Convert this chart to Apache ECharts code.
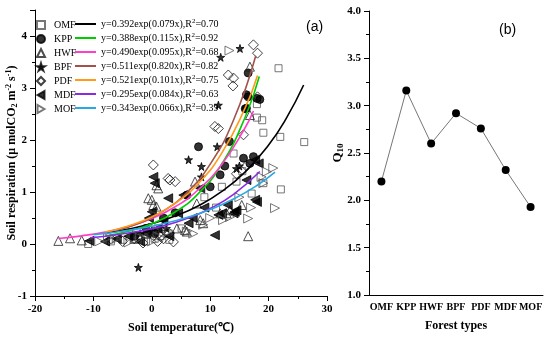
<!DOCTYPE html>
<html><head><meta charset="utf-8">
<script src="https://cdn.jsdelivr.net/npm/echarts@6/dist/echarts.min.js"></script>
<style>html,body{margin:0;padding:0;background:#fff}#c{width:550px;height:340px}</style>
</head><body><div id="c"></div>
<script>
// ---------- data ----------
const forestTypes = ['OMF','KPP','HWF','BPF','PDF','MDF','MOF'];
const q10Values = [2.20, 3.16, 2.60, 2.92, 2.76, 2.32, 1.93];
const equations = [
  'y=0.392exp(0.079x),R2=0.70',
  'y=0.388exp(0.115x),R2=0.92',
  'y=0.490exp(0.095x),R2=0.68',
  'y=0.511exp(0.820x),R2=0.82',
  'y=0.521exp(0.101x),R2=0.75',
  'y=0.295exp(0.084x),R2=0.63',
  'y=0.343exp(0.066x),R2=0.39'
];
// observed soil respiration [temperature, respiration]
const obsOMF = [[21.7,3.38],[18.9,2.38],[19.1,2.14],[22.0,2.06],[26.1,1.96],[18.0,2.43],[14.0,1.74],[18.0,2.69],[22.1,1.05],[17.1,0.97],[19.1,1.17],[5.1,0.30],[-10.9,0.0],[-7,0.05],[-5,0.08],[-3,0.1],[-1,0.05],[0.5,0.1],[1.5,0.15],[2.5,0.2],[3,0.08],[-2,0.15],[1,0.3],[9,0.9],[12,1.1],[15.5,1.4],[11,0.7],[14.5,1.2]];
const obsKPP = [[16.5,3.29],[16.5,2.83],[18.5,2.78],[16.2,2.61],[13.3,1.97],[8.0,1.87],[15.7,1.65],[16.8,1.55],[11.7,1.33],[16.2,2.87],[18,2.8],[16,2.6],[17.4,1.68],[2,0.5],[4,0.6],[-1,0.3],[0.5,0.2],[6,0.94],[10,1.1],[12.5,1.5],[-3,0.15]];
const obsHWF = [[-16.0,0.06],[-14,0.11],[-12,0.07],[0.8,1.13],[0,0.85],[0.26,0.75],[-0.6,0.88],[0.8,0.72],[1.1,1.07],[4.3,0.3],[6,0.24],[7.7,0.78],[8.3,0.46],[8.8,0.4],[5.7,0.27],[11.7,0.59],[12.8,0.59],[13.4,0.65],[16.5,0.15],[16.8,3.41],[16.8,2.48],[7.4,1.2],[15.4,0.75],[-3,0.1],[-1,0.2],[2,0.35]];
const obsBPF = [[15.1,3.76],[11.8,3.59],[11.4,2.67],[11.2,1.87],[6.3,1.62],[8.5,1.49],[8.5,1.29],[-2.3,-0.45],[2.5,0.3],[-2,0.2],[15,1.5],[0,0.25],[14.5,1.45]];
const obsPDF = [[17.4,3.83],[18.1,3.67],[13.1,3.25],[14.0,3.19],[13.9,3.04],[18.1,2.83],[10.8,2.26],[11.4,2.22],[15.7,2.10],[0.26,1.52],[2.8,1.26],[3.1,1.23],[4.0,1.2],[14.5,1.35],[16.2,1.5],[-5,0.05],[-3,0.1],[-1.5,0.02],[1,0.05],[2,0.1],[3,0.2],[-7,0.1],[-0.5,0.3],[1.5,0.14],[3.7,0.04]];
const obsMDF = [[0.26,1.29],[0.5,1.17],[2.8,0.88],[0,0.62],[5.4,0.94],[8.3,1.07],[4.5,0.59],[6.3,0.4],[10.8,0.17],[14.5,0.65],[14,0.59],[17.7,0.85],[16.2,1.23],[18,0.81],[11.4,0.56],[12,0.59],[14.2,0.62],[17.7,1.62],[18.3,1.55],[-10.7,0.06],[-8,0.05],[-6,0.1],[-4,0.15],[-2,0.05],[-1,0.2],[1,0.3],[2,0.45],[-0.5,0.5],[9,0.7],[7,0.5],[3,0.15],[13,0.75]];
const obsMOF = [[13.3,3.72],[21.1,0.69],[16.5,0.49],[18.8,1.29],[19.7,1.39],[20.8,1.46],[19.1,1.17],[12.2,0.46],[13.4,0.52],[6,0.24],[7.1,0.2],[8.8,0.37],[-9,0.05],[-6,0.1],[-4,0.03],[-2,0.12],[1,0.15],[3,0.25],[10,0.5],[15,0.9],[17,0.7],[-7.5,0.12],[0,0.05]];
// fitted curves [temperature, respiration]
const fitOMF = [[-8,0.208],[-4,0.286],[0,0.392],[4,0.538],[8,0.737],[12,1.012],[16,1.388],[20,1.903],[23,2.41],[26,3.057]];
const fitKPP = [[-8,0.155],[-4,0.245],[0,0.388],[4,0.615],[8,0.974],[12,1.542],[16,2.443],[18.4,3.22]];
const fitHWF = [[-16,0.107],[-12,0.157],[-8,0.229],[-4,0.335],[0,0.490],[4,0.716],[8,1.048],[12,1.532],[16,2.240],[17.4,2.559]];
const fitBPF = [[-6,0.264],[-2,0.410],[2,0.637],[6,0.989],[10,1.535],[14,2.384],[17.8,3.62]];
const fitPDF = [[-8,0.232],[-4,0.348],[0,0.521],[4,0.780],[8,1.169],[12,1.751],[16,2.622],[18.1,3.242]];
const fitMDF = [[-10.6,0.121],[-6,0.178],[-2,0.249],[2,0.349],[6,0.488],[10,0.683],[14,0.956],[18.5,1.395]];
const fitMOF = [[-10,0.177],[-6,0.231],[-2,0.301],[2,0.391],[6,0.510],[10,0.664],[14,0.864],[18,1.125],[21.1,1.381]];
const minorTickSlots = ['','','','','','','','','','','','','','','','','','','','',''];

// ---------- styles ----------
const SERIF = 'Liberation Serif';
const STAR = 'path://M50,0 L61,35 L98,35 L68,57 L79,91 L50,70 L21,91 L32,57 L2,35 L39,35 Z';
const TRI_LEFT = 'path://M0,50 L87,0 L87,100 Z';
const TRI_RIGHT = 'path://M87,50 L0,0 L0,100 Z';
const HOLLOW = 'rgba(255,255,255,0)';
const obsSets = [obsOMF, obsKPP, obsHWF, obsBPF, obsPDF, obsMDF, obsMOF];
const fitSets = [fitOMF, fitKPP, fitHWF, fitBPF, fitPDF, fitMDF, fitMOF];
const markStyles = [
  {symbol:'rect', size:7, fill:HOLLOW, stroke:'#555'},
  {symbol:'circle', size:8, fill:'#000', stroke:'#000'},
  {symbol:'triangle', size:9, fill:HOLLOW, stroke:'#222'},
  {symbol:STAR, size:8, fill:'#000', stroke:'#000'},
  {symbol:'diamond', size:10, fill:HOLLOW, stroke:'#111'},
  {symbol:TRI_LEFT, size:9, fill:'#000', stroke:'#000'},
  {symbol:TRI_RIGHT, size:9, fill:HOLLOW, stroke:'#555'}
];
const lineColors = ['#000000','#00cc00','#ff3fc8','#a0524c','#ff9a1a','#8a2be2','#2aa8e0'];

const series = [];
forestTypes.forEach((n, i) => {
  const s = markStyles[i];
  series.push({
    type:'scatter', name:n, xAxisIndex:0, yAxisIndex:0, data:obsSets[i],
    symbol:s.symbol, symbolSize:s.size,
    itemStyle:{color:s.fill, borderColor:s.stroke, borderWidth:1}, z:2
  });
});
forestTypes.forEach((n, i) => {
  series.push({
    type:'line', name:equations[i], xAxisIndex:0, yAxisIndex:0, data:fitSets[i],
    smooth:true, showSymbol:false, symbol:'none',
    lineStyle:{color:lineColors[i], width:1.6}, itemStyle:{color:lineColors[i]}, z:3
  });
});
series.push({
  type:'line', name:'Q10', xAxisIndex:1, yAxisIndex:1, data:q10Values,
  symbol:'circle', symbolSize:8, itemStyle:{color:'#000'},
  lineStyle:{color:'#777', width:1}
});

const axisLabelStyle = {color:'#000', fontFamily:SERIF, fontWeight:'bold', fontSize:11, margin:8};
const axisLineBlack = () => ({show:true, onZero:false, lineStyle:{color:'#000', width:1}});

const option = {
  backgroundColor:'#fff',
  animation:false,
  title:[
    {text:'(a)', left:301, top:15, textStyle:{fontFamily:'Liberation Sans', fontWeight:'normal', fontSize:14, color:'#000'}},
    {text:'(b)', left:494, top:18, textStyle:{fontFamily:'Liberation Sans', fontWeight:'normal', fontSize:14, color:'#000'}}
  ],
  legend:[
    {data:forestTypes.map((n, i) => ({name:n, icon:markStyles[i].symbol})), orient:'vertical', left:36, top:19, itemWidth:8, itemHeight:8, itemGap:2,
     selectedMode:false, padding:0,
     textStyle:{fontFamily:SERIF, fontSize:10, lineHeight:12, color:'#000', padding:[0,0,0,4]}},
    {data:equations.map(e => ({name:e, icon:'rect'})), orient:'vertical', left:75, top:18, itemWidth:21, itemHeight:2, itemGap:2,
     selectedMode:false, padding:0,
     formatter: n => n.replace('R2', 'R{sup|2}'),
     textStyle:{fontFamily:SERIF, fontSize:10, lineHeight:12, color:'#000',
       rich:{sup:{fontFamily:SERIF, fontSize:7, lineHeight:7, verticalAlign:'top', color:'#000'}}}}
  ],
  grid:[
    {left:35, right:223, top:10, bottom:44, containLabel:false, outerBoundsMode:'none'},
    {left:369, right:7, top:11, bottom:45, containLabel:false, outerBoundsMode:'none'}
  ],
  xAxis:[
    {gridIndex:0, type:'value', min:-20, max:30, interval:10, position:'bottom',
     axisLine:axisLineBlack(), axisTick:{length:5, lineStyle:{color:'#000'}},
     minorTick:{show:true, splitNumber:2, length:3, lineStyle:{color:'#000'}},
     splitLine:{show:false}, axisLabel:axisLabelStyle,
     name:'Soil temperature(℃)', nameLocation:'middle', nameGap:26, nameMoveOverlap:false,
     nameTextStyle:{fontFamily:SERIF, fontWeight:'bold', fontSize:12, color:'#000'}},
    {gridIndex:1, type:'category', data:forestTypes, boundaryGap:true, position:'bottom',
     axisLine:axisLineBlack(), axisTick:{alignWithLabel:true, interval:0, length:5, lineStyle:{color:'#000'}},
     axisLabel:Object.assign({}, axisLabelStyle, {fontSize:10, interval:0, margin:7}),
     name:'Forest types', nameLocation:'middle', nameGap:25, nameMoveOverlap:false,
     nameTextStyle:{fontFamily:SERIF, fontWeight:'bold', fontSize:12, color:'#000'}},
    {gridIndex:1, type:'category', data:minorTickSlots, boundaryGap:true, position:'bottom', offset:0,
     axisLine:{show:false, onZero:false}, axisTick:{alignWithLabel:true, interval:0, length:3, lineStyle:{color:'#000'}},
     axisLabel:{show:false}, splitLine:{show:false}}
  ],
  yAxis:[
    {gridIndex:0, type:'value', min:-1, max:4.5, interval:1, position:'left',
     axisLine:axisLineBlack(), axisTick:{show:true, length:5, lineStyle:{color:'#000'}},
     minorTick:{show:true, splitNumber:2, length:3, lineStyle:{color:'#000'}},
     splitLine:{show:false},
     axisLabel:Object.assign({}, axisLabelStyle, {formatter: v => Number.isInteger(v) ? String(v) : ''}),
     name:'Soil respiration (μ molCO{sub|2} m{sup|-2} s{sup|-1})', nameLocation:'middle', nameGap:16, nameMoveOverlap:false,
     nameTextStyle:{fontFamily:SERIF, fontWeight:'bold', fontSize:12, lineHeight:14, color:'#000',
       rich:{sub:{fontFamily:SERIF, fontWeight:'bold', fontSize:8, lineHeight:8, verticalAlign:'bottom', color:'#000'},
             sup:{fontFamily:SERIF, fontWeight:'bold', fontSize:8, lineHeight:8, verticalAlign:'top', color:'#000'}}}},
    {gridIndex:1, type:'value', min:1, max:4, interval:0.5, position:'left',
     axisLine:axisLineBlack(), axisTick:{show:true, length:5, lineStyle:{color:'#000'}},
     minorTick:{show:true, splitNumber:2, length:3, lineStyle:{color:'#000'}},
     splitLine:{show:false},
     axisLabel:Object.assign({}, axisLabelStyle, {formatter: v => v.toFixed(1)}),
     name:'Q{sub|10}', nameLocation:'middle', nameGap:24, nameMoveOverlap:false,
     nameTextStyle:{fontFamily:SERIF, fontWeight:'bold', fontSize:13, lineHeight:15, color:'#000',
       rich:{sub:{fontFamily:SERIF, fontWeight:'bold', fontSize:9, lineHeight:9, verticalAlign:'bottom', color:'#000'}}}}
  ],
  series: series
};
const chart = echarts.init(document.getElementById('c'), null, {renderer:'canvas'});
chart.setOption(option);
</script></body></html>
